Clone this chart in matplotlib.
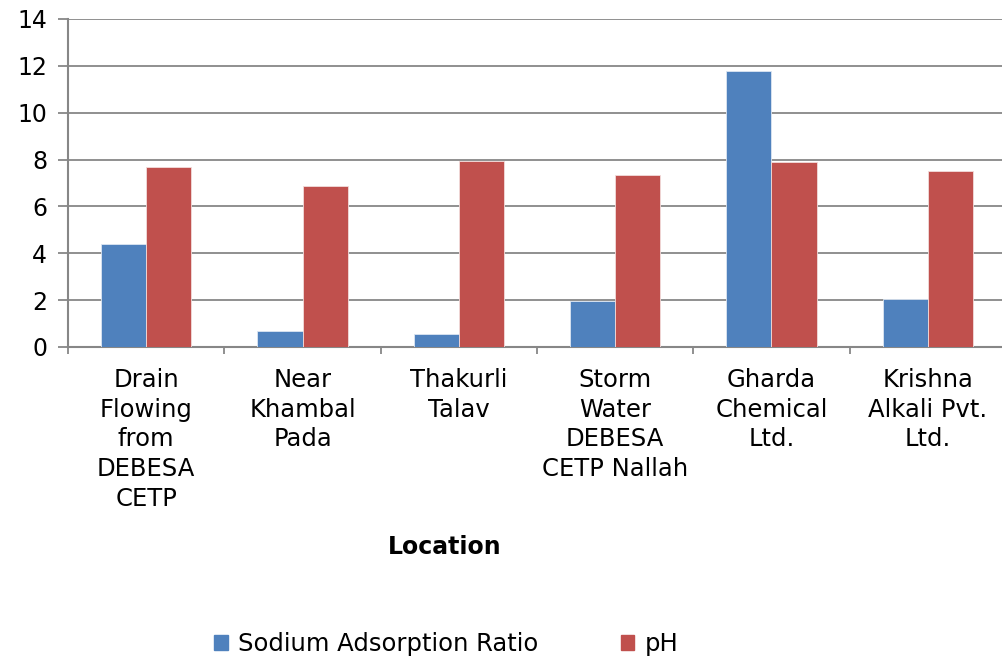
import matplotlib
matplotlib.use("Agg")
import matplotlib.pyplot as plt
from matplotlib.patches import Patch
import numpy as np

plt.rcParams["font.family"] = ["DejaVu Sans"]

# sampling locations and measured values
locations = [
    "Drain\nFlowing\nfrom\nDEBESA\nCETP",
    "Near\nKhambal\nPada",
    "Thakurli\nTalav",
    "Storm\nWater\nDEBESA\nCETP Nallah",
    "Gharda\nChemical\nLtd.",
    "Krishna\nAlkali Pvt.\nLtd.",
]
sar = [4.38, 0.68, 0.55, 1.98, 11.78, 2.06]
ph = [7.67, 6.87, 7.95, 7.35, 7.89, 7.52]
y_ticks = [0, 2, 4, 6, 8, 10, 12, 14]

BLUE = "#4F81BD"
RED = "#C0504D"
GRID = "#878787"

fig = plt.figure(figsize=(10.02, 6.6), dpi=100)
ax = fig.add_axes([68 / 1002, 313 / 660, 938 / 1002, 328 / 660])

x = np.arange(len(locations))
w = 0.288
ax.bar(x - w / 2, sar, w, color=BLUE, edgecolor="#DCE6F2", linewidth=0.6, zorder=3)
ax.bar(x + w / 2, ph, w, color=RED, edgecolor="#F2DCDB", linewidth=0.6, zorder=3)

ax.set_xlim(-0.5, len(locations) - 0.5)
ax.set_ylim(0, 14)
ax.set_yticks(y_ticks)
ax.yaxis.grid(True, color=GRID, linewidth=1.3, zorder=0)
ax.set_axisbelow(True)

ax.set_xticks(x)
ax.set_xticklabels(locations, linespacing=1.3)
ax.set_xticks(np.arange(-0.5, len(locations)), minor=True)
ax.tick_params(axis="x", which="major", length=0, pad=15, labelsize=17.5)
ax.tick_params(axis="x", which="minor", length=5, width=1.3, color=GRID)
ax.tick_params(axis="y", length=7, width=1.3, color=GRID, labelsize=17, pad=8)

for side in ("top", "right"):
    ax.spines[side].set_visible(False)
for side in ("left", "bottom"):
    ax.spines[side].set_color(GRID)
    ax.spines[side].set_linewidth(1.5)

fig.text(445 / 1002, 1 - 547 / 660, "Location", ha="center", va="center",
         fontsize=17, fontweight="bold")

handles = [Patch(color=BLUE, label="Sodium Adsorption Ratio"),
           Patch(color=RED, label="pH")]
fig.legend(handles=handles, loc="center left", bbox_to_anchor=(202 / 1002, 1 - 644 / 660),
           ncol=2, frameon=False, fontsize=17.5, handlelength=0.55, handleheight=0.55,
           handletextpad=0.45, columnspacing=3.37, borderpad=0)

fig.savefig("out.png", dpi=100)
